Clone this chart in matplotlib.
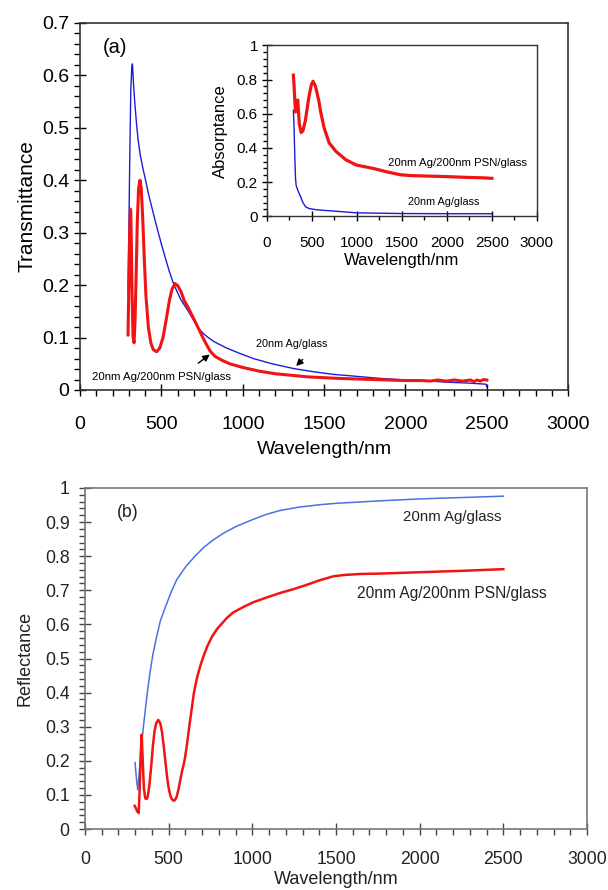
import matplotlib
matplotlib.use("Agg")
import matplotlib.pyplot as plt
from matplotlib.ticker import MultipleLocator, FuncFormatter

plt.rcParams['font.family'] = ['Liberation Sans', 'DejaVu Sans']

# ---------------- data: (a) transmittance ----------------
t_ag_wl = [295, 300, 306, 312, 318, 322, 326, 330, 335, 340, 348, 358, 369, 385, 403, 420,
           440, 460, 481, 503, 526, 550, 578, 620, 666, 700, 727, 760, 788, 820, 850, 901,
           980, 1065, 1180, 1311, 1430, 1550, 1700, 1850, 1950, 2100, 2250, 2400, 2495, 2500]
t_ag_val = [0.185, 0.30, 0.45, 0.57, 0.615, 0.622, 0.60, 0.578, 0.555, 0.535, 0.505, 0.475,
            0.45, 0.425, 0.40, 0.375, 0.35, 0.325, 0.30, 0.275, 0.25, 0.225, 0.20, 0.172, 0.15,
            0.132, 0.118, 0.107, 0.10, 0.093, 0.088, 0.08, 0.07, 0.06, 0.05, 0.041, 0.035, 0.030,
            0.026, 0.022, 0.020, 0.018, 0.015, 0.013, 0.011, 0.006]

t_psn_wl = [295, 300, 305, 310, 312, 316, 320, 326, 332, 338, 345, 352, 360, 369, 376, 385,
            395, 405, 420, 435, 450, 471, 490, 510, 530, 550, 565, 584, 600, 620, 641, 660,
            676, 700, 727, 750, 775, 800, 830, 870, 920, 1000, 1100, 1200, 1400, 1600, 1800,
            2000, 2100, 2150, 2200, 2250, 2300, 2350, 2400, 2420, 2440, 2460, 2480, 2500]
t_psn_val = [0.105, 0.20, 0.30, 0.345, 0.34, 0.27, 0.18, 0.10, 0.09, 0.13, 0.22, 0.32, 0.385,
             0.40, 0.385, 0.33, 0.25, 0.18, 0.12, 0.09, 0.077, 0.073, 0.08, 0.10, 0.135, 0.172,
             0.192, 0.203, 0.199, 0.188, 0.17, 0.16, 0.15, 0.135, 0.118, 0.103, 0.088, 0.074,
             0.064, 0.057, 0.05, 0.043, 0.036, 0.031, 0.025, 0.022, 0.020, 0.018, 0.018, 0.017,
             0.019, 0.017, 0.019, 0.017, 0.019, 0.016, 0.019, 0.017, 0.020, 0.019]

# ---------------- data: inset absorptance ----------------
a_ag_wl = [294, 300, 310, 318, 325, 345, 370, 400, 430, 470, 550, 700, 850, 1000, 1500, 2000, 2500]
a_ag_val = [0.62, 0.55, 0.35, 0.22, 0.18, 0.15, 0.12, 0.08, 0.055, 0.045, 0.038, 0.032, 0.026,
            0.020, 0.016, 0.015, 0.015]

a_psn_wl = [294, 300, 310, 318, 325, 335, 343, 350, 360, 381, 400, 426, 464, 494, 513, 540,
            577, 596, 634, 691, 766, 879, 993, 1181, 1332, 1483, 1600, 1800, 2000, 2200, 2400, 2500]
a_psn_val = [0.826, 0.78, 0.68, 0.61, 0.62, 0.66, 0.68, 0.62, 0.54, 0.49, 0.50, 0.556, 0.69,
             0.77, 0.79, 0.76, 0.675, 0.615, 0.52, 0.43, 0.38, 0.33, 0.30, 0.28, 0.26, 0.243,
             0.238, 0.235, 0.232, 0.228, 0.225, 0.222]

# ---------------- data: (b) reflectance ----------------
r_ag_wl = [299, 307, 315, 320, 330, 340, 349, 363, 375, 388, 405, 424, 450, 482, 515, 548,
           600, 657, 710, 767, 830, 906, 1000, 1080, 1165, 1280, 1404, 1500, 1750, 2000, 2250, 2500]
r_ag_val = [0.195, 0.15, 0.115, 0.14, 0.20, 0.26, 0.30, 0.36, 0.41, 0.457, 0.51, 0.555, 0.61,
            0.653, 0.695, 0.731, 0.768, 0.80, 0.826, 0.848, 0.868, 0.888, 0.907, 0.922, 0.934,
            0.944, 0.951, 0.955, 0.962, 0.968, 0.972, 0.976]

r_psn_wl = [297, 305, 312, 321, 327, 333, 339, 345, 352, 360, 369, 375, 385, 395, 405, 415,
            425, 438, 450, 460, 470, 480, 490, 500, 510, 520, 530, 538, 548, 558, 568, 580,
            590, 598, 610, 623, 637, 651, 670, 690, 707, 730, 760, 790, 817, 850, 886, 950,
            1006, 1080, 1165, 1250, 1325, 1400, 1484, 1550, 1650, 1763, 2000, 2250, 2500]
r_psn_val = [0.068, 0.06, 0.052, 0.047, 0.12, 0.22, 0.277, 0.20, 0.12, 0.09, 0.088, 0.095,
             0.13, 0.18, 0.24, 0.285, 0.31, 0.32, 0.31, 0.285, 0.245, 0.20, 0.155, 0.12, 0.098,
             0.087, 0.083, 0.085, 0.095, 0.115, 0.14, 0.17, 0.19, 0.21, 0.25, 0.30, 0.35, 0.40,
             0.445, 0.48, 0.505, 0.535, 0.565, 0.587, 0.602, 0.62, 0.635, 0.652, 0.665, 0.678,
             0.692, 0.704, 0.716, 0.729, 0.741, 0.745, 0.748, 0.749, 0.753, 0.757, 0.762]

label_ag = "20nm Ag/glass"
label_psn = "20nm Ag/200nm PSN/glass"

RED = "#f01414"
BLUE_A = "#1c1cd8"
BLUE_B = "#4a72e0"

fmt = FuncFormatter(lambda v, p: f"{v:g}")

fig = plt.figure(figsize=(6.08, 8.90), dpi=100)

# ---------------- panel (a) ----------------
ax = fig.add_axes([0.1316, 0.5618, 0.803, 0.4124])
ax.plot(t_ag_wl, t_ag_val, color=BLUE_A, lw=1.0)
ax.plot(t_psn_wl, t_psn_val, color=RED, lw=2.2)
ax.set_xlim(0, 3000)
ax.set_ylim(0, 0.7)
ax.xaxis.set_major_locator(MultipleLocator(500))
ax.xaxis.set_minor_locator(MultipleLocator(100))
ax.yaxis.set_major_locator(MultipleLocator(0.1))
ax.yaxis.set_minor_locator(MultipleLocator(0.02))
ax.yaxis.set_major_formatter(fmt)
ax.tick_params(which='major', direction='inout', length=9, width=1, labelsize=14, pad=3)
ax.tick_params(which='minor', direction='out', length=4, width=1)
ax.tick_params(axis='x', pad=14)
ax.set_xlabel("Wavelength/nm", fontsize=14, labelpad=6)
ax.set_ylabel("Transmittance", fontsize=15, labelpad=4)
for s in ax.spines.values():
    s.set_color('#333333')
    s.set_linewidth(1.2)
ax.text(215, 0.653, "(a)", fontsize=14.5, ha='center', va='center')
ax.annotate("", xy=(1316, 0.042), xytext=(1380, 0.062),
            arrowprops=dict(arrowstyle='-|>', color='k', lw=1.0, mutation_scale=10))
ax.text(1303, 0.088, label_ag, fontsize=7.8, ha='center', va='center')
ax.annotate("", xy=(811, 0.071), xytext=(713, 0.048),
            arrowprops=dict(arrowstyle='-|>', color='k', lw=1.0, mutation_scale=10))
ax.text(500, 0.025, label_psn, fontsize=8.2, ha='center', va='center')

# ---------------- inset ----------------
ins = fig.add_axes([0.439, 0.757, 0.444, 0.192])
ins.plot(a_ag_wl, a_ag_val, color=BLUE_A, lw=1.0)
ins.plot(a_psn_wl, a_psn_val, color=RED, lw=2.3)
ins.set_xlim(0, 3000)
ins.set_ylim(0, 1)
ins.xaxis.set_major_locator(MultipleLocator(500))
ins.xaxis.set_minor_locator(MultipleLocator(250))
ins.yaxis.set_major_locator(MultipleLocator(0.2))
ins.yaxis.set_minor_locator(MultipleLocator(0.04))
ins.yaxis.set_major_formatter(fmt)
ins.tick_params(which='major', direction='inout', length=7, width=1, labelsize=11, pad=3)
ins.tick_params(which='minor', direction='out', length=3, width=1)
ins.tick_params(axis='x', pad=11)
ins.set_xlabel("Wavelength/nm", fontsize=12, labelpad=2)
ins.set_ylabel("Absorptance", fontsize=12, labelpad=6)
for s in ins.spines.values():
    s.set_color('#333333')
    s.set_linewidth(1.0)
ins.text(2122, 0.31, label_psn, fontsize=8.2, ha='center', va='center')
ins.text(1967, 0.082, label_ag, fontsize=7.8, ha='center', va='center')

# ---------------- panel (b) ----------------
bx = fig.add_axes([0.1398, 0.0685, 0.8257, 0.3832])
bx.plot(r_ag_wl, r_ag_val, color=BLUE_B, lw=1.1)
bx.plot(r_psn_wl, r_psn_val, color=RED, lw=1.8)
bx.set_xlim(0, 3000)
bx.set_ylim(0, 1)
bx.xaxis.set_major_locator(MultipleLocator(500))
bx.xaxis.set_minor_locator(MultipleLocator(100))
bx.yaxis.set_major_locator(MultipleLocator(0.1))
bx.yaxis.set_minor_locator(MultipleLocator(0.02))
bx.yaxis.set_major_formatter(fmt)
bx.tick_params(which='major', direction='inout', length=8, width=1, labelsize=12.7, pad=7,
               color='#444444', labelcolor='#222222')
bx.tick_params(which='minor', direction='out', length=4, width=1, color='#444444')
bx.tick_params(axis='x', pad=12)
bx.set_xlabel("Wavelength/nm", fontsize=13, labelpad=2, color='#222222')
bx.set_ylabel("Reflectance", fontsize=13, labelpad=8, color='#222222')
for s in bx.spines.values():
    s.set_color('#777777')
    s.set_linewidth(1.2)
bx.text(257, 0.927, "(b)", fontsize=12.7, ha='center', va='center', color='#222222')
bx.text(2194, 0.915, label_ag, fontsize=10.8, ha='center', va='center', color='#222222')
bx.text(2194, 0.692, label_psn, fontsize=11.2, ha='center', va='center', color='#222222')

fig.savefig("out.png", dpi=100)
